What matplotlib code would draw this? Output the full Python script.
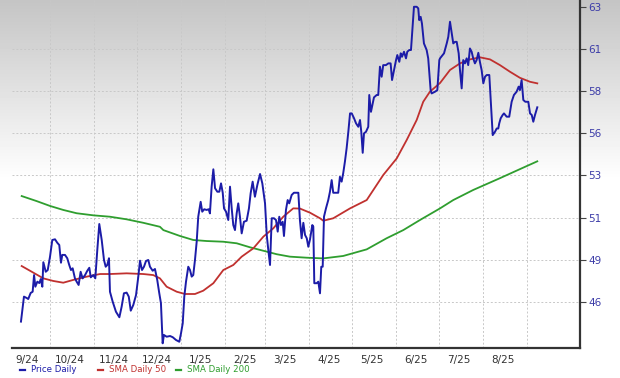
import numpy as np
import pandas as pd
import matplotlib
matplotlib.use("Agg")
import matplotlib.pyplot as plt
from matplotlib.lines import Line2D

# ---------------- data (days since 2024-09-01, price) ----------------
price_days = [9.6, 11.7, 13.6, 14.7, 16.4, 17.8, 18.8, 19.7, 21.1, 22.5, 23.5, 24.6, 25.3, 27.0, 28.4,
              30.0, 31.6, 33.5, 35.1, 36.5, 37.7, 38.6, 40.5, 42.1, 43.5, 44.7, 45.9, 47.5, 48.7, 50.1,
              51.5, 52.9, 54.6, 56.2, 57.6, 58.6, 60.4, 61.8, 63.2, 64.6, 66.3, 67.9, 69.1, 70.2, 71.4,
              72.1, 74.0, 76.3, 78.7, 80.3, 81.9, 83.8, 85.3, 86.7, 88.5, 90.4, 92.0, 93.2, 94.6, 96.0,
              97.4, 99.0, 100.2, 102.1, 103.7, 105.3, 106.7, 107.9, 109.1, 110.0, 111.9, 114.3, 116.2,
              118.5, 120.8, 122.0, 123.2, 124.3, 125.5, 127.1, 128.3, 129.5, 130.6, 131.8, 133.0, 134.1,
              135.8, 136.9, 138.3, 140.0, 141.4, 142.3, 143.5, 144.7, 145.9, 147.5, 148.9, 150.1, 151.3,
              152.2, 153.6, 155.2, 156.4, 157.6, 158.7, 159.9, 161.1, 162.2, 163.4, 164.6, 166.2, 168.1,
              169.7, 170.9, 172.3, 173.9, 175.6, 177.5, 179.1, 181.0, 182.2, 183.3, 184.5, 185.7, 187.3,
              188.7, 189.9, 191.0, 192.2, 193.4, 194.3, 195.7, 196.9, 198.0, 199.7, 201.3, 203.2, 204.4,
              205.5, 206.7, 207.9, 209.1, 210.3, 211.4, 212.6, 214.2, 214.9, 215.6, 217.3, 218.4, 219.6,
              220.5, 221.5, 222.4, 223.8, 225.4, 226.6, 227.8, 228.9, 230.8, 232.4, 233.6, 234.8, 235.9,
              237.1, 238.3, 239.5, 240.7, 241.9, 243.5, 244.9, 246.5, 247.7, 248.6, 249.6, 250.5, 251.9,
              253.5, 254.2, 255.4, 256.6, 257.5, 259.4, 260.5, 261.7, 262.9, 264.0, 265.9, 267.6, 269.2,
              270.2, 271.6, 273.0, 273.9, 275.3, 276.3, 277.2, 278.6, 280.0, 280.9, 282.3, 283.5, 284.7,
              285.6, 287.5, 288.6, 289.3, 290.3, 291.2, 292.6, 294.5, 295.6, 297.3, 298.0, 300.4, 302.0,
              303.4, 303.9, 306.7, 308.6, 309.7, 310.9, 312.1, 313.2, 314.4, 315.6, 317.0, 317.9, 319.1,
              320.2, 321.4, 322.6, 323.7, 324.9, 326.1, 327.2, 328.4, 329.6, 330.8, 331.9, 333.1, 334.3,
              335.5, 336.7, 338.5, 339.5, 340.9, 342.5, 343.7, 344.8, 345.5, 346.5, 347.9, 348.8, 350.7,
              352.5, 354.2, 355.8, 357.7, 359.1, 360.0, 361.2, 362.4, 363.8, 365.9, 367.1, 368.3, 369.4,
              370.6, 372.2]
price = [44.87, 46.31, 46.23, 46.17, 46.52, 46.59, 47.55, 46.88, 47.17, 47.09, 47.32, 46.88, 48.29, 47.74, 47.84,
         48.61, 49.57, 49.61, 49.41, 49.28, 48.26, 48.71, 48.71, 48.52, 48.13, 47.84, 47.94, 47.36, 47.17, 46.98,
         47.74, 47.36, 47.55, 47.80, 47.97, 47.42, 47.55, 47.36, 48.99, 50.49, 49.57, 48.42, 48.03, 48.13, 48.52,
         46.59, 46.02, 45.44, 45.12, 45.73, 46.50, 46.54, 46.31, 45.50, 45.83, 46.40, 47.46, 48.38, 47.84, 48.03,
         48.36, 48.42, 48.03, 47.80, 47.90, 47.27, 46.52, 45.93, 43.62, 44.10, 44.00, 44.04, 43.97,
         43.81, 43.71, 44.20, 44.77, 46.31, 47.17, 48.03, 47.84, 47.46, 47.55, 48.42, 49.47, 50.91,
         51.77, 51.20, 51.34, 51.30, 51.34, 51.10, 52.64, 53.64, 52.55, 52.35, 52.35, 52.83, 52.29,
         51.39, 51.20, 50.72, 52.64, 51.39, 50.43, 50.14, 51.11, 51.68, 50.91, 49.95, 50.62, 50.68,
         51.39, 52.26, 52.93, 52.06, 52.74, 53.37, 52.83, 51.68, 49.86, 48.99, 48.13, 50.82, 50.82,
         50.72, 50.05, 50.91, 50.43, 50.62, 49.80, 51.30, 51.87, 51.68, 52.16, 52.29, 52.29, 52.29,
         50.72, 49.67, 50.56, 49.86, 49.67, 49.18, 49.61, 50.43, 50.34, 47.08, 47.08, 47.17, 46.50,
         48.03, 48.03, 50.91, 51.39, 51.87, 52.35, 53.02, 52.29, 52.29, 52.29, 53.21, 52.93, 53.41,
         54.08, 54.85, 55.80, 56.86, 56.86, 56.58, 56.29, 56.09, 56.48, 55.80, 54.59, 55.71, 55.80,
         56.09, 57.92, 56.95, 57.44, 57.78, 57.92, 57.92, 59.55, 58.97, 59.64, 59.64, 59.74, 59.74,
         58.78, 59.36, 59.93, 60.22, 59.83, 60.32, 60.12, 60.41, 60.03, 60.41, 60.51, 60.51, 61.95,
         63.00, 63.00, 62.91, 62.23, 62.42, 62.04, 60.89, 60.51, 60.03, 58.20, 58.01, 58.11, 58.20,
         59.93, 60.03, 60.32, 60.89, 61.27, 62.14, 61.47, 60.89, 60.98, 60.98, 60.32, 59.36, 58.30,
         59.93, 59.74, 60.03, 59.64, 60.60, 60.41, 60.03, 59.74, 59.93, 60.35, 59.83, 59.36, 58.59,
         58.97, 59.07, 59.07, 57.63, 55.61, 55.80, 55.99, 55.99, 56.29, 56.58, 56.77, 56.86, 56.67,
         56.67, 57.53, 57.92, 58.11, 58.40, 58.20, 58.78, 57.63, 57.53, 57.53, 56.86, 56.77, 56.38,
         56.77, 57.21]

sma50_days = [10.1, 15.9, 25.3, 32.3, 39.3, 46.3, 55.8, 65.1, 72.1, 83.8, 95.5, 102.5, 107.2, 111.9, 119.0,
              124.8, 131.8, 137.6, 144.7, 151.7, 158.7, 164.6, 172.8, 179.8, 186.8, 193.8, 200.8, 205.5,
              212.6, 219.6, 221.9, 228.9, 240.7, 252.4, 264.0, 273.5, 280.5, 287.5, 292.1, 296.8, 303.9,
              310.9, 317.9, 324.9, 331.9, 339.0, 346.0, 353.0, 360.0, 367.1, 372.2]
sma50 = [48.07, 47.80, 47.36, 47.21, 47.11, 47.27, 47.46, 47.61, 47.61, 47.65, 47.61, 47.55, 47.36, 46.88, 46.59,
         46.46, 46.46, 46.65, 47.08, 47.84, 48.13, 48.61, 49.09, 49.76, 50.24, 50.91, 51.39, 51.38,
         51.14, 50.82, 50.68, 50.82, 51.39, 51.87, 53.31, 54.27, 55.33, 56.48, 57.53, 58.11, 58.61,
         59.36, 59.74, 59.97, 60.09, 59.97, 59.64, 59.26, 58.91, 58.68, 58.59]

sma200_days = [10.1, 20.6, 30.0, 39.3, 48.7, 60.4, 72.1, 83.8, 95.5, 107.2, 109.6, 121.3, 130.6, 140.0, 151.7,
               161.1, 170.4, 179.8, 189.2, 198.5, 210.3, 221.9, 235.9, 252.4, 266.4, 278.1, 289.8, 303.9,
               313.2, 327.2, 346.0, 360.0, 372.2]
sma200 = [52.10, 51.81, 51.53, 51.30, 51.11, 50.99, 50.91, 50.76, 50.56, 50.33, 50.14, 49.80, 49.57, 49.51, 49.47,
          49.38, 49.15, 48.95, 48.75, 48.61, 48.55, 48.51, 48.65, 49.03, 49.67, 50.14, 50.72, 51.39,
          51.87, 52.45, 53.13, 53.65, 54.10]

ytick_labels = ["46", "49", "51", "53", "56", "58", "61", "63"]
month_labels = ["9/24", "10/24", "11/24", "12/24", "1/25", "2/25", "3/25", "4/25", "5/25", "6/25", "7/25", "8/25"]
legend_labels = ["Price Daily", "SMA Daily 50", "SMA Daily 200"]

# ---------------- figure ----------------
base = pd.Timestamp("2024-09-01")
def to_dates(days):
    return base + pd.to_timedelta(np.asarray(days), unit="D")

W, H = 620, 378
fig = plt.figure(figsize=(W / 100, H / 100), dpi=100)
fig.patch.set_facecolor("white")

# background gradient (grey at top fading to white)
bg = fig.add_axes([0, 0, 1, 1], zorder=-5)
rows = np.arange(H)
lvl = 0.77 + (1 - 0.77) * np.clip(rows / 180.0, 0, 1)
grad = np.repeat(lvl[:, None], 2, axis=1)
bg.imshow(grad, cmap="gray", vmin=0, vmax=1, aspect="auto", extent=[0, 1, 0, 1], origin="upper")
bg.axis("off")

ax = fig.add_axes([12 / W, 30 / H, 568 / W, 348 / H])
ax.set_facecolor("none")

blue = "#1c1ca8"
red = "#c0312f"
green = "#2f9e2f"

ax.plot(to_dates(sma200_days), sma200, color=green, lw=1.3, zorder=3)
ax.plot(to_dates(sma50_days), sma50, color=red, lw=1.3, zorder=3)
ax.plot(to_dates(price_days), price, color=blue, lw=1.4, zorder=4)

ax.set_xlim(base + pd.Timedelta(days=3.3), base + pd.Timedelta(days=402.2))
ax.set_ylim(43.35, 63.39)

# y axis on right
yt = np.linspace(46, 63, 8)
ax.yaxis.tick_right()
ax.set_yticks(yt)
ax.set_yticklabels(ytick_labels)
ax.tick_params(axis="y", which="major", length=4, width=0.8, color="#444444",
               labelcolor="#3c3ca8", labelsize=7.5, pad=2)

# x axis: grid at month starts, labels mid-month
month_starts = pd.date_range("2024-10-01", "2025-09-01", freq="MS")
mid_months = [pd.Timestamp(y, m, 15) for y, m in
              [(2024, 9), (2024, 10), (2024, 11), (2024, 12), (2025, 1), (2025, 2), (2025, 3),
               (2025, 4), (2025, 5), (2025, 6), (2025, 7), (2025, 8)]]
ax.set_xticks(month_starts)
ax.set_xticklabels([])
ax.set_xticks(mid_months, minor=True)
ax.set_xticklabels(month_labels, minor=True)
ax.tick_params(axis="x", which="both", length=0, labelcolor="#333333", labelsize=7.5, pad=5)

ax.grid(True, which="major", axis="both", color="#c8c8c8", linestyle=(0, (2, 2)), lw=0.7)

for s in ["left", "top"]:
    ax.spines[s].set_visible(False)
for s in ["right", "bottom"]:
    ax.spines[s].set_color("#333333")
    ax.spines[s].set_linewidth(1.6)

# legend below
ly = (H - 370) / H
items = [(20, 31, blue), (98, 109, red), (176, 187, green)]
for (dx, tx, c), lab in zip(items, legend_labels):
    fig.add_artist(Line2D([dx / W, (dx + 5) / W], [ly, ly], color=c, lw=1.6, transform=fig.transFigure))
    fig.text(tx / W, ly, lab, color=c, fontsize=6.2, va="center", ha="left")

fig.savefig("out.png", dpi=100)
